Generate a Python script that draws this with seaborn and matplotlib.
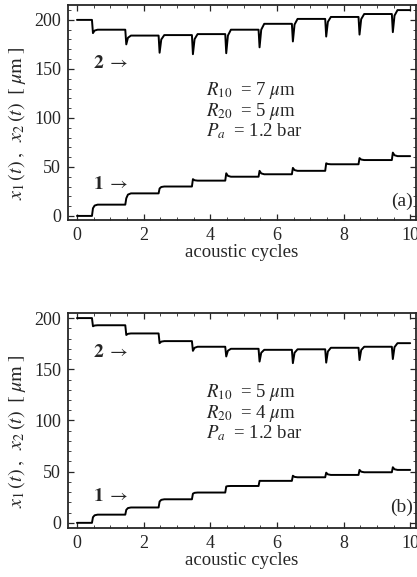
import numpy as np
import matplotlib
matplotlib.use("Agg")
import matplotlib.pyplot as plt
from matplotlib.ticker import MultipleLocator
import seaborn as sns
import pandas as pd

# Levels held during each acoustic cycle (k = 0..10) and the value reached
# right at the jump between cycles (dip minimum / overshoot peak), in um.
A_X2_LEVELS = [200, 190, 184, 184.5, 185.5, 190, 196, 201, 203, 206, 210]
A_X2_JUMPS = [186.5, 175, 166.5, 165, 166, 172, 178, 183, 185, 187.5]
A_X1_LEVELS = [0, 11.5, 23, 30, 36, 40, 42.5, 46, 52.7, 57, 61]
A_X1_JUMPS = [7.8, 18, 28, 37.5, 43.5, 46, 49, 53.7, 59, 64.6]

B_X2_LEVELS = [200, 193, 185, 177.5, 172, 170, 169, 169.5, 171, 172, 175.5]
B_X2_JUMPS = [192, 183.5, 175.5, 168, 162.5, 157.5, 156, 156.5, 159, 160]
B_X1_LEVELS = [0, 8, 15, 23, 29.6, 36, 41, 44.5, 46.8, 49.4, 51.7]
B_X1_JUMPS = [5.5, 12.7, 20.8, 28.5, 35.5, 41, 46, 49, 51.7, 54.3]

PANELS = {
    "a": dict(x2=(A_X2_LEVELS, A_X2_JUMPS), x1=(A_X1_LEVELS, A_X1_JUMPS),
              params=["7", "5", "1.2"], ylim=(-4, 215),
              lab2=156, lab1=32, text_y=0.51, tag_y=0.085),
    "b": dict(x2=(B_X2_LEVELS, B_X2_JUMPS), x1=(B_X1_LEVELS, B_X1_JUMPS),
              params=["5", "4", "1.2"], ylim=(-5, 205),
              lab2=166, lab1=26, text_y=0.535, tag_y=0.095),
}


def step_curve(levels, jumps):
    """Trace the stepped trajectory: flat level, sharp jump, quick settle."""
    t, x = [0.0], [levels[0]]
    for k, (ext, lvl) in enumerate(zip(jumps, levels[1:])):
        prev = levels[k]
        t += [k + 0.45, k + 0.48, k + 0.53, k + 0.62]
        x += [prev, ext, ext + 0.75 * (lvl - ext), lvl]
    t.append(10.0)
    x.append(levels[-1])
    return pd.DataFrame({"t": t, "x": x})


sns.set_style("ticks")
plt.rcParams["font.family"] = ["Liberation Serif", "DejaVu Serif"]
plt.rcParams["mathtext.fontset"] = "stix"

fig = plt.figure(figsize=(4.17, 5.77), dpi=100)
axes = {
    "a": fig.add_axes([0.163, 0.619, 0.835, 0.372]),
    "b": fig.add_axes([0.163, 0.085, 0.835, 0.3726]),
}

for key, cfg in PANELS.items():
    ax = axes[key]
    for name in ("x2", "x1"):
        df = step_curve(*cfg[name])
        sns.lineplot(data=df, x="t", y="x", ax=ax, color="black",
                     linewidth=1.4, sort=False, estimator=None)

    ax.set_xlim(-0.27, 10.18)
    ax.set_ylim(*cfg["ylim"])
    ax.xaxis.set_major_locator(MultipleLocator(2))
    ax.xaxis.set_minor_locator(MultipleLocator(0.5))
    ax.yaxis.set_major_locator(MultipleLocator(50))
    ax.yaxis.set_minor_locator(MultipleLocator(10))
    ax.tick_params(which="both", direction="in", top=True, right=True,
                   labelsize=13, pad=5)
    ax.tick_params(which="major", length=4, width=0.9)
    ax.tick_params(which="minor", length=2, width=0.6)
    for s in ax.spines.values():
        s.set_linewidth(1.3)

    ax.set_xlabel("acoustic cycles", fontsize=13.5, labelpad=0)
    ax.set_ylabel(r"$x_1\,(t)\;,\;\;x_2\,(t)\;\;[\;\mu\mathrm{m}\;]$",
                  fontsize=14.5)
    ax.yaxis.set_label_coords(-0.115, 0.45)

    ax.text(0.48, cfg["lab2"], r"$\mathbf{2}\;\rightarrow$", fontsize=14,
            va="center", ha="left")
    ax.text(0.48, cfg["lab1"], r"$\mathbf{1}\;\rightarrow$", fontsize=14,
            va="center", ha="left")

    r10, r20, pa = cfg["params"]
    ax.text(0.395, cfg["text_y"],
            rf"$R_{{10}}\;$ = {r10} $\mu$m" + "\n"
            + rf"$R_{{20}}\;$ = {r20} $\mu$m" + "\n"
            + rf"$P_a\;$ = {pa} bar",
            transform=ax.transAxes, fontsize=13.5, va="center", ha="left",
            linespacing=0.98)

    ax.text(0.99, cfg["tag_y"], f"({key})", transform=ax.transAxes,
            fontsize=14, va="center", ha="right")

fig.savefig("out.png", dpi=100)
plt.close()
